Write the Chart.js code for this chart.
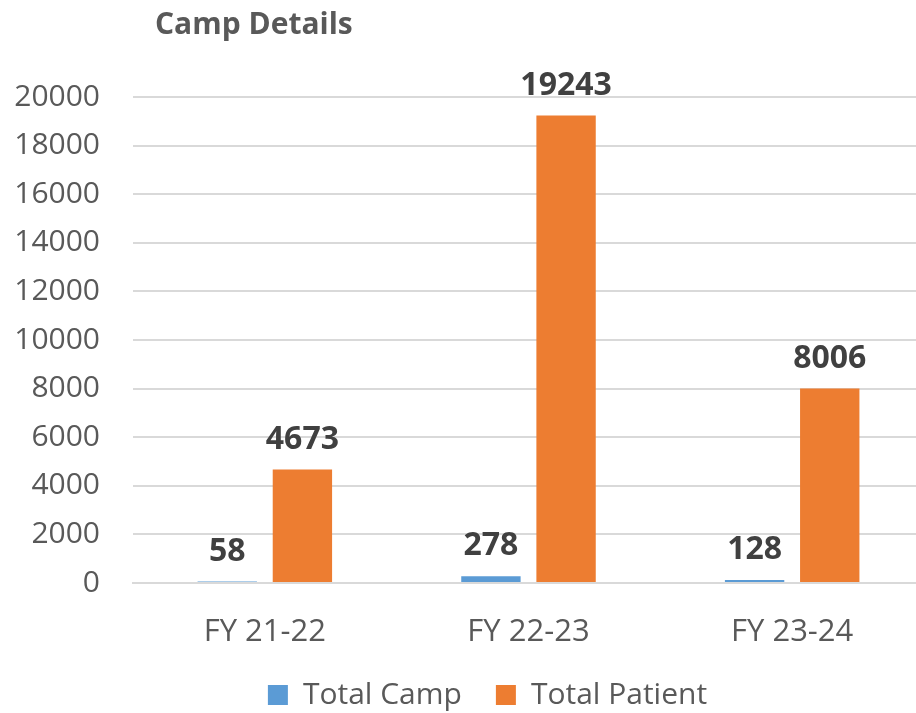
<!DOCTYPE html>
<html>
<head>
<meta charset="utf-8">
<script src="https://cdn.jsdelivr.net/npm/chart.js@4"></script>
<style>
  html, body { margin: 0; padding: 0; background: #fff; overflow: hidden; }
  #wrap { width: 924px; height: 713px; }
</style>
</head>
<body>
<div id="wrap"><canvas id="myChart"></canvas></div>
<script>
const ctx = document.getElementById('myChart').getContext('2d')

const labels = ['FY 21-22', 'FY 22-23', 'FY 23-24']
const totalCamp = [58, 278, 128]
const totalPatient = [4673, 19243, 8006]
const yTicks = [0, 2000, 4000, 6000, 8000, 10000, 12000, 14000, 16000, 18000, 20000]

const textGray = '#595959'
const font = '"Open Sans", "Noto Sans", sans-serif'

// draws the title and the bold value labels above each bar
const extras = {
    id: 'extras',
    afterLayout(chart) {
        // legend in the original sits a little right of centre
        chart.legend.left += 38
    },
    afterDatasetsDraw(chart) {
        const c = chart.ctx
        c.save()
        c.fillStyle = '#404040'
        c.font = 'bold 32px ' + font
        c.textAlign = 'center'
        c.textBaseline = 'bottom'
        chart.data.datasets.forEach((ds, i) => {
            chart.getDatasetMeta(i).data.forEach((bar, j) => {
                c.fillText(ds.data[j], bar.x, bar.y - 14)
            })
        })
        c.fillStyle = textGray
        c.font = 'bold 30px ' + font
        c.textAlign = 'left'
        c.textBaseline = 'middle'
        c.fillText('Camp Details', 155, 25)
        c.restore()
    }
}

const data = {
    labels,
    datasets: [{
        label: 'Total Camp',
        data: totalCamp,
        backgroundColor: '#5B9BD5'
    }, {
        label: 'Total Patient',
        data: totalPatient,
        backgroundColor: '#ED7D31'
    }]
}

const config = {
    type: 'bar',
    data,
    options: {
        responsive: true,
        maintainAspectRatio: false,
        animation: false,
        layout: { padding: { top: 97, left: 13, right: 0, bottom: 0 } },
        datasets: {
            bar: { categoryPercentage: 0.57, barPercentage: 0.79 }
        },
        plugins: {
            legend: {
                position: 'bottom',
                maxHeight: 67,
                labels: {
                    color: textGray,
                    font: { family: font, size: 30 },
                    boxWidth: 20,
                    boxHeight: 20,
                    padding: 34
                }
            },
            tooltip: { enabled: false }
        },
        scales: {
            x: {
                afterFit: axis => { axis.height = 63 },
                grid: { display: false, drawTicks: false },
                border: { color: '#d9d9d9', width: 2 },
                ticks: { color: textGray, font: { family: font, size: 31 }, padding: 31 }
            },
            y: {
                min: 0,
                max: 20000,
                afterBuildTicks: axis => { axis.ticks = yTicks.map(v => ({ value: v })) },
                afterFit: axis => { axis.width = 120 },
                grid: { color: '#d9d9d9', lineWidth: 2, drawTicks: false },
                border: { display: false },
                ticks: {
                    color: textGray,
                    font: { family: font, size: 30 },
                    padding: 33,
                    callback: value => String(value)
                }
            }
        }
    },
    plugins: [extras]
}

const myChart = new Chart(ctx, config)
</script>
</body>
</html>
